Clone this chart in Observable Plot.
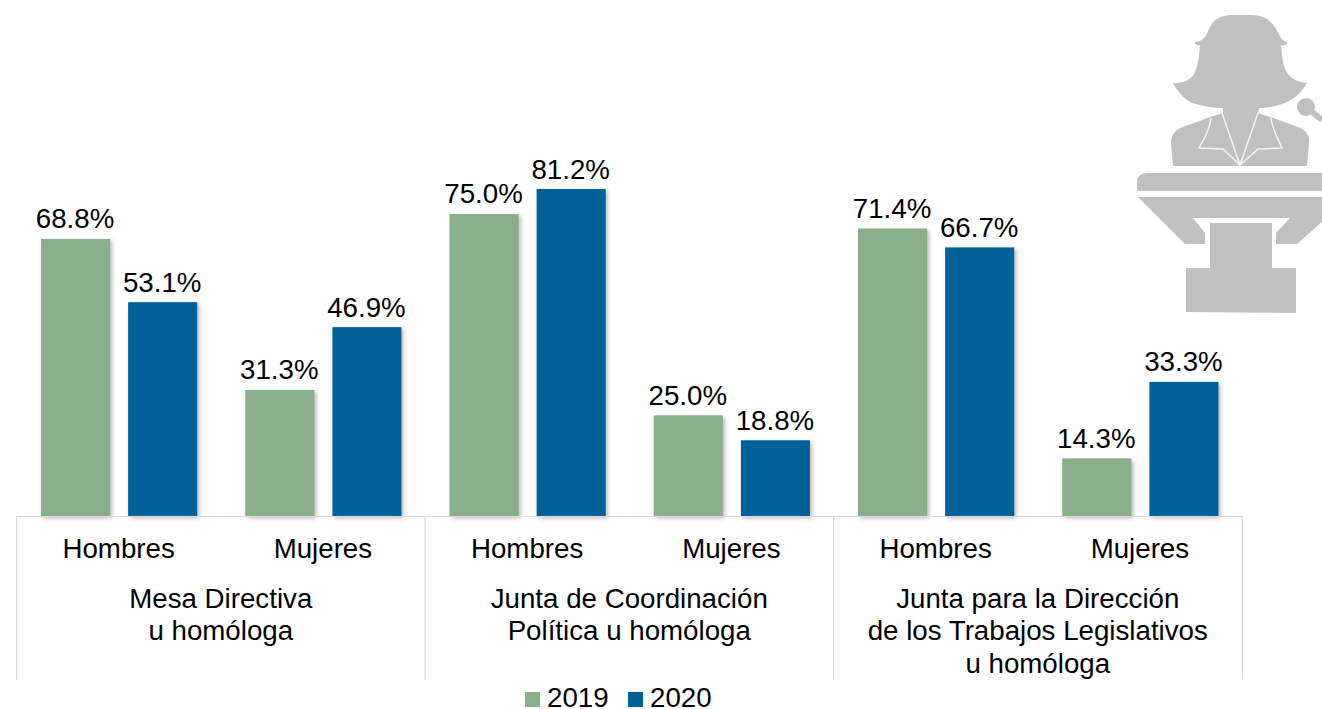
<!DOCTYPE html>
<html lang="es">
<head>
<meta charset="utf-8">
<script src="https://cdn.jsdelivr.net/npm/d3@7"></script>
<script src="https://cdn.jsdelivr.net/npm/@observablehq/plot@0.6"></script>
<style>
html,body{margin:0;padding:0;background:#fff;overflow:hidden}
#wrap{position:relative;width:1322px;height:709px;font-family:"Liberation Sans",Arial,sans-serif;color:#000}
#wrap svg{display:block}
#icon{position:absolute;left:0;top:0}
#legend{position:absolute;left:525px;top:687px;height:22px;display:flex;align-items:center;font-size:27.7px;line-height:22px}
#legend span.k{display:inline-block;width:15px;height:15px;margin-right:7px;position:relative;top:1.5px}
#legend span.t{margin-right:19.4px}
</style>
</head>
<body>
<div id="wrap"></div>
<script>
const groups = ["Mesa Directiva\nu homóloga", "Junta de Coordinación\nPolítica u homóloga", "Junta para la Dirección\nde los Trabajos Legislativos\nu homóloga"];
const sexes = ["Hombres", "Mujeres"];
const years = ["2019", "2020"];
const colors = ["#8AAD8A", "#006199"];
const values2019 = [68.8, 31.3, 75.0, 25.0, 71.4, 14.3];
const values2020 = [53.1, 46.9, 81.2, 18.8, 66.7, 33.3];

const panels = groups.flatMap((g, i) => sexes.map(s => `${i}|${s}`));
const rows = panels.flatMap((p, i) => [
  {panel: p, year: years[0], value: values2019[i]},
  {panel: p, year: years[1], value: values2020[i]}
]);
const groupRows = groups.map((g, i) => ({panel: `${i}|${sexes[0]}`, label: g}));
const base = -40.7; // the table's verticals hang below the zero line

const chart = Plot.plot({
  width: 1322, height: 680,
  marginLeft: 17, marginRight: 79.5, marginTop: 113.3, marginBottom: 164,
  style: {fontFamily: '"Liberation Sans",Arial,sans-serif', background: "transparent", color: "#000"},
  fx: {domain: panels, padding: 0, round: false, axis: null, label: null},
  x: {domain: years, axis: null, round: false, paddingInner: 0.207, paddingOuter: 0.276, label: null},
  y: {domain: [0, 100], axis: null, label: null},
  color: {domain: years, range: colors},
  marks: [
    Plot.barY(rows, {fx: "panel", x: "year", y: "value", fill: "year",
      imageFilter: "drop-shadow(2px 2px 2px rgba(0,0,0,0.28))"}),
    Plot.ruleY(panels, {fx: d => d, y: () => 0, stroke: "#d9d9d9", strokeWidth: 1.2}),
    Plot.ruleX(panels.filter((p, i) => i % 2 === 0), {fx: d => d, x: () => years[0], y1: () => 0, y2: () => base, dx: -59.5, stroke: "#d9d9d9", strokeWidth: 1.2}),
    Plot.ruleX([panels[panels.length - 1]], {fx: d => d, x: () => years[1], y1: () => 0, y2: () => base, dx: 58, stroke: "#d9d9d9", strokeWidth: 1.2}),
    Plot.text(rows, {fx: "panel", x: "year", y: "value", text: d => d.value.toFixed(1) + "%",
      lineAnchor: "bottom", dy: -11, dx: -1, fontSize: 27.7, fill: "#000"}),
    Plot.axisFx({anchor: "bottom", label: null, tickSize: 0, tickPadding: 22, dx: -1, fontSize: 27.7, tickFormat: d => d.split("|")[1]}),
    Plot.text(groupRows, {fx: "panel", text: "label", frameAnchor: "bottom-right", textAnchor: "middle",
      lineAnchor: "top", dx: -1, dy: 68.5, lineHeight: 1.17, fontSize: 27.7, fill: "#000"})
  ]
});
const wrap = document.getElementById("wrap");
wrap.append(chart);

// Decorative speaker pictogram
const ns = "http://www.w3.org/2000/svg";
const icon = document.createElementNS(ns, "svg");
icon.setAttribute("id", "icon"); icon.setAttribute("width", 1322); icon.setAttribute("height", 330);
icon.innerHTML = `
<g fill="#c0c0c0">
<path d="M1195 42 C1204 41 1206 36 1209 29 C1213 20 1221 15 1232 15 L1252 15 C1263 15 1271 20 1276 29 C1280 36 1281 41 1287 42 C1288 44 1285 46 1281 45 C1282 56 1283 68 1288 74 C1293 80 1299 82 1307 83 C1302 92 1293 101 1279 105 C1272 107 1266 108 1259 108 L1258 113 C1270 117 1282 121 1295 126 C1305 129 1310 134 1309 143 L1307 166 L1173 166 L1171 143 C1171 134 1176 129 1185 126 C1195 123 1207 118 1213 116 L1223 113 L1223 108 C1212 108 1202 106 1192 103 C1184 99 1177 91 1173 83 C1182 83 1190 81 1194 74 C1198 67 1199 56 1200 45 C1197 46 1194 44 1195 42Z"/>
<path d="M1147 173 L1322 173 L1322 191 L1137 191 L1137 183 Q1137 173 1147 173Z"/>
<path d="M1138 197 L1322 197 L1322 222 L1297 244 L1276 244 L1276 233 L1290 218 L1193 218 L1205 233 L1205 244 L1185 244Z"/>
<path d="M1210 223 L1272 223 L1272 268 L1296 268 L1296 313 L1186 312 L1186 268 L1210 268Z"/>
<circle cx="1306" cy="107" r="9"/>
</g>
<path d="M1306 107 L1322 120" stroke="#c0c0c0" stroke-width="6" fill="none"/>
<g fill="none" stroke="#f4f4f4" stroke-width="1.5">
<path d="M1211 118 C1210 128 1205 138 1199 148 L1223 149 L1240 165 L1222 113"/>
<path d="M1271 118 C1272 128 1277 138 1282 148 L1258 149 L1240 165 L1258 113"/>
</g>`;
wrap.append(icon);

const legend = document.createElement("div");
legend.id = "legend";
years.forEach((y, i) => {
  const k = document.createElement("span"); k.className = "k"; k.style.background = colors[i];
  const t = document.createElement("span"); t.className = "t"; t.textContent = y;
  legend.append(k, t);
});
wrap.append(legend);
</script>
</body>
</html>
